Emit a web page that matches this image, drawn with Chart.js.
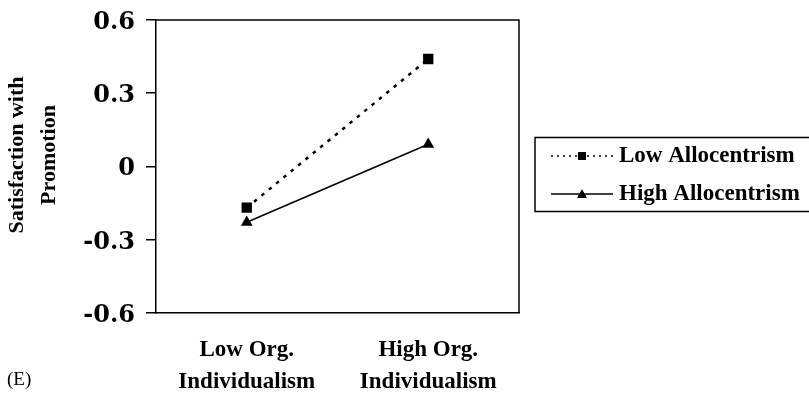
<!DOCTYPE html>
<html>
<head>
<meta charset="utf-8">
<script src="https://cdn.jsdelivr.net/npm/chart.js@4.4.0/dist/chart.umd.min.js"></script>
<style>
  html, body { margin: 0; padding: 0; background: #fff; overflow: hidden; }
  #wrap { width: 809px; height: 393px; position: relative; }
</style>
</head>
<body>
<div id="wrap"><canvas id="myChart"></canvas></div>
<script>
// values
const categories = [["Low Org.", "Individualism"], ["High Org.", "Individualism"]];
const seriesNames = ["Low Allocentrism", "High Allocentrism"];
const lowAllocentrism = [-0.17, 0.44];
const highAllocentrism = [-0.23, 0.09];
const yTicks = [-0.6, -0.3, 0, 0.3, 0.6];
const yTitle = ["Satisfaction with", "Promotion"];
const panelLabel = "(E)";

const serif = "'Liberation Serif', 'Times New Roman', serif";

// box round the plot (top + right side)
const frame = {
  id: "frame",
  afterDatasetsDraw(chart) {
    const { ctx, chartArea: a } = chart;
    ctx.save();
    ctx.strokeStyle = "#000";
    ctx.lineWidth = 1.5;
    ctx.beginPath();
    ctx.moveTo(a.left, a.top);
    ctx.lineTo(a.right, a.top);
    ctx.lineTo(a.right, a.bottom);
    ctx.stroke();
    ctx.restore();
  }
};

// y title, panel letter and the boxed legend
const extras = {
  id: "extras",
  afterDraw(chart) {
    const ctx = chart.ctx;
    ctx.save();
    ctx.fillStyle = "#000";

    // y title, two lines
    ctx.font = "bold 22px " + serif;
    ctx.textAlign = "center";
    ctx.textBaseline = "middle";
    yTitle.forEach((t, i) => {
      ctx.save();
      ctx.translate(17.5 + i * 32, 155);
      ctx.rotate(-Math.PI / 2);
      ctx.fillText(t, 0, 0);
      ctx.restore();
    });

    // (E)
    ctx.font = "19px " + serif;
    ctx.textAlign = "left";
    ctx.fillText(panelLabel, 7, 380);

    // legend
    ctx.strokeStyle = "#000";
    ctx.lineWidth = 1.5;
    ctx.strokeRect(535, 137.5, 300, 74);
    const rows = [156, 194];
    chart.data.datasets.forEach((ds, i) => {
      const y = rows[i];
      ctx.save();
      ctx.lineWidth = 1.5;
      ctx.setLineDash(ds.borderDash && ds.borderDash.length ? [2, 4] : []);
      ctx.beginPath();
      ctx.moveTo(551, y);
      ctx.lineTo(613, y);
      ctx.stroke();
      ctx.restore();
      Chart.helpers.drawPoint(ctx, {
        pointStyle: ds.pointStyle,
        radius: 5.5,
        borderWidth: 0,
        rotation: 0
      }, 582, ds.pointStyle === "triangle" ? y + 1 : y);
      ctx.fill();
      ctx.font = "bold 23px " + serif;
      ctx.textAlign = "left";
      ctx.textBaseline = "middle";
      ctx.fillText(ds.label, 619, y);
    });
    ctx.restore();
  }
};

new Chart("myChart", {
  type: "line",
  data: {
    labels: categories,
    datasets: [{
      label: seriesNames[0],
      data: lowAllocentrism,
      borderColor: "#000",
      borderWidth: 2.5,
      borderDash: [3.5, 6],
      pointStyle: "rect",
      pointRadius: 7.3,
      pointBorderWidth: 0,
      pointBackgroundColor: "#000",
      tension: 0
    }, {
      label: seriesNames[1],
      data: highAllocentrism,
      borderColor: "#000",
      borderWidth: 1.5,
      pointStyle: "triangle",
      pointRadius: 6.8,
      pointBorderWidth: 0,
      pointBackgroundColor: "#000",
      tension: 0
    }]
  },
  options: {
    responsive: true,
    maintainAspectRatio: false,
    animation: false,
    layout: { padding: { top: 20, right: 290, left: 0, bottom: 0 } },
    plugins: {
      legend: { display: false },
      tooltip: { enabled: false },
      title: { display: false }
    },
    scales: {
      x: {
        offset: true,
        grid: { display: true, drawOnChartArea: false, drawTicks: false, color: "#000" },
        border: { display: true, color: "#000", width: 1.5 },
        ticks: {
          color: "#000",
          padding: 21,
          maxRotation: 0,
          font: { family: serif, size: 23, weight: "bold", lineHeight: 1.42 }
        },
        afterFit(scale) {
          scale.height = 80.5;
          scale.paddingLeft = 0;
          scale.paddingRight = 0;
        }
      },
      y: {
        min: -0.6,
        max: 0.6,
        afterBuildTicks(scale) { scale.ticks = yTicks.map(v => ({ value: v })); },
        grid: { display: true, drawOnChartArea: false, drawTicks: true, tickLength: 10, color: "#000", lineWidth: 1.5 },
        border: { display: true, color: "#000", width: 1.5 },
        ticks: {
          color: "#000",
          padding: 11,
          // empty first line + small lineHeight nudges the numbers ~3px down
          font: { family: "'DejaVu Serif', serif", size: 24, weight: "bold", lineHeight: 0.25 },
          callback: v => ["", String(v)]
        },
        afterFit(scale) {
          scale.width = 156;
          scale.paddingTop = 0;
          scale.paddingBottom = 0;
        }
      }
    }
  },
  plugins: [frame, extras]
});
</script>
</body>
</html>
